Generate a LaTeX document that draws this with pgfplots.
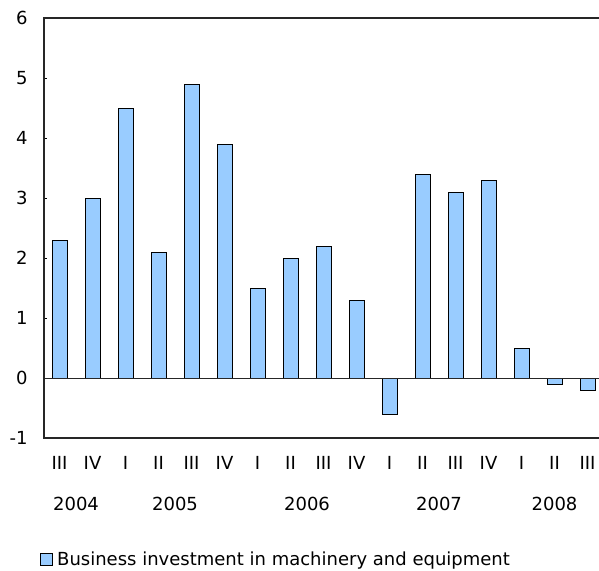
\documentclass[border=0pt]{standalone}
\usepackage{pgfplots}
\pgfplotsset{compat=1.18}
\usepackage{fontspec}
\setmainfont{DejaVu Sans}
\definecolor{barblue}{RGB}{153,204,255}
\begin{document}
\begin{tikzpicture}[font=\fontsize{18}{21}\selectfont]
\begin{axis}[
  at={(44pt,132pt)}, anchor=south west,
  scale only axis, width=560pt, height=420pt,
  xmin=-0.47, xmax=16.5, ymin=-1, ymax=6,
  ytick={-1,0,1,2,3,4,5,6},
  xtick={0,...,16},
  xticklabels={III,IV,I,II,III,IV,I,II,III,IV,I,II,III,IV,I,II,III},
  major x tick style={draw=none},
  tick align=inside, major tick length=3pt,
  tick style={black, line width=0.8pt},
  yticklabel style={anchor=east, xshift=-13pt},
  xticklabel style={anchor=center, yshift=-25pt},
  /pgf/number format/assume math mode=true,
  axis line style={line width=1.2pt, black!85},
  clip=false,
  legend style={at={(axis description cs:-0.007,-0.288)}, anchor=west, draw=none, fill=none, inner sep=0pt, font=\fontsize{18}{21}\selectfont},
  legend image code/.code={\draw[#1] (0pt,-6pt) rectangle (12pt,6pt);},
]
\addplot[ybar, bar width=15pt, fill=barblue, draw=black, line width=0.9pt] coordinates {
(0,2.3) (1,3.0) (2,4.5) (3,2.1) (4,4.9) (5,3.9) (6,1.5) (7,2.0) (8,2.2) (9,1.3)
(10,-0.6) (11,3.4) (12,3.1) (13,3.3) (14,0.5) (15,-0.1) (16,-0.2)};
\addlegendentry{\hspace{2pt}Business investment in machinery and equipment}
\draw[black!85, line width=1pt] (axis cs:-0.47,0) -- (axis cs:16.5,0);
\node at (axis cs:0.5,-1) [yshift=-66pt] {2004};
\node at (axis cs:3.5,-1) [yshift=-66pt] {2005};
\node at (axis cs:7.5,-1) [yshift=-66pt] {2006};
\node at (axis cs:11.5,-1) [yshift=-66pt] {2007};
\node at (axis cs:15,-1) [yshift=-66pt] {2008};
\end{axis}
\pgfresetboundingbox
\path[use as bounding box] (0,0) rectangle (599pt,570pt);
\end{tikzpicture}
\end{document}
